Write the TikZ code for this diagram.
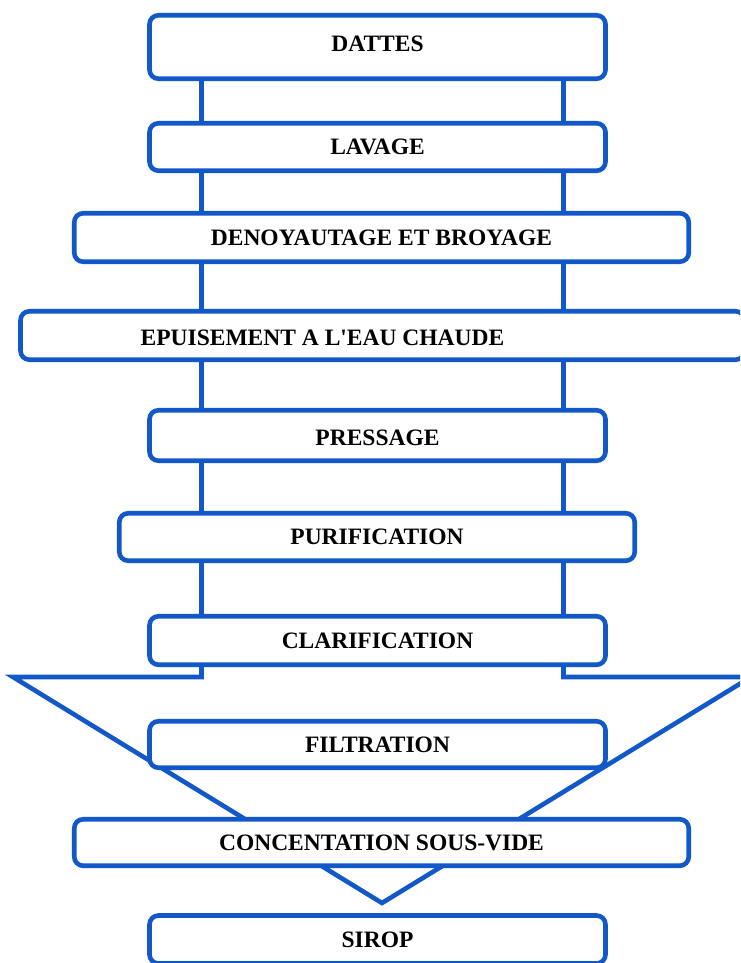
\documentclass[tikz,border=0pt]{standalone}
\usepackage{fontspec}
\setmainfont{Liberation Serif}[Ligatures=TeXOff]
\definecolor{flowblue}{RGB}{18,88,200}
\begin{document}
\begin{tikzpicture}[x=1pt,y=-1pt,
  stage/.style={draw=flowblue, line width=4.6pt, rounded corners=9pt, fill=white,
    inner sep=0pt, font=\fontsize{23.5}{27}\selectfont\bfseries},
  label/.style={font=\fontsize{23.5}{27}\selectfont\bfseries},
  outline/.style={draw=flowblue, line width=4.6pt, line join=miter}]
  \useasboundingbox (0,0) rectangle (740,963);
  \clip (0,0) rectangle (740,963);

  % process arrow behind the stages: stem, then the wide head down to the tip
  \coordinate (stemL) at (201.5,80);
  \coordinate (stemR) at (563.5,80);
  \coordinate (shL) at (201.5,677);
  \coordinate (shR) at (563.5,677);
  \coordinate (headL) at (13,677);
  \coordinate (headR) at (751,677);
  \coordinate (tip) at (382,903);
  \draw[outline] (stemL) -- (shL) -- (headL) -- (tip) -- (headR) -- (shR) -- (stemR);

  % stages
  \node[stage, minimum width=456pt, minimum height=63.5pt] (dattes) at (377.5,47) {};
  \node[label] (tdattes) at (377.5,44) {DATTES};
  \node[stage, minimum width=456pt, minimum height=47.5pt] (lavage) at (377.5,147) {LAVAGE};
  \node[stage, minimum width=614.5pt, minimum height=48.5pt] (denoy) at (381.5,237.5) {DENOYAUTAGE ET BROYAGE};
  \node[stage, minimum width=724pt, minimum height=48.5pt] (epuis) at (382.5,335.5) {};
  \node[label] (tepuis) at (322.5,338) {EPUISEMENT A L'EAU CHAUDE};
  \node[stage, minimum width=456pt, minimum height=50.5pt] (press) at (377.5,435.5) {};
  \node[label] (tpress) at (377.5,438) {PRESSAGE};
  \node[stage, minimum width=515.5pt, minimum height=47.5pt] (purif) at (377,537) {PURIFICATION};
  \node[stage, minimum width=456pt, minimum height=48.5pt] (clarif) at (377.5,640.5) {CLARIFICATION};
  \node[stage, minimum width=456pt, minimum height=46.5pt] (filtr) at (377.5,744.5) {FILTRATION};
  \node[stage, minimum width=614.5pt, minimum height=46.5pt] (concent) at (381.5,842.5) {CONCENTATION SOUS-VIDE};
  \node[stage, minimum width=456pt, minimum height=48pt] (sirop) at (377.5,939.5) {SIROP};
\end{tikzpicture}
\end{document}
